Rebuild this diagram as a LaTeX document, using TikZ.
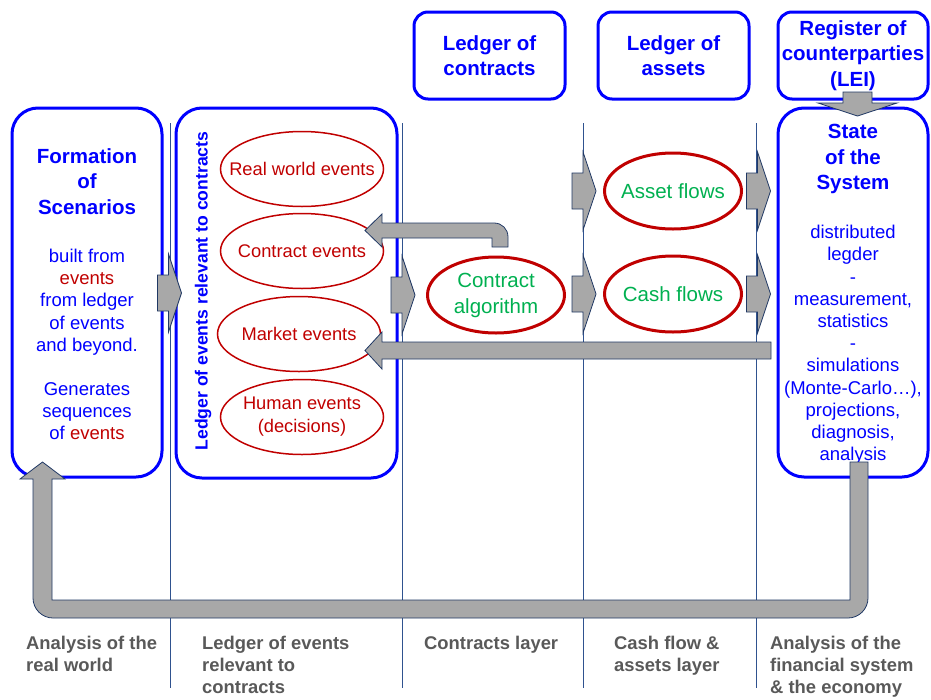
\documentclass[tikz,border=0pt]{standalone}
\usepackage{fontspec}
\setmainfont{Liberation Sans}
\usetikzlibrary{calc,positioning,shapes.geometric}
\definecolor{boxblue}{RGB}{0,0,255}
\definecolor{evred}{RGB}{192,0,0}
\definecolor{flowgreen}{RGB}{0,176,80}
\definecolor{arrowgray}{RGB}{168,168,168}
\definecolor{arrowedge}{RGB}{32,56,100}
\definecolor{linecol}{RGB}{47,82,143}
\definecolor{labelgray}{RGB}{89,89,89}
\tikzset{
	bluebox/.style={draw=boxblue, line width=3pt, rounded corners=#1, inner sep=0pt},
	bluebox/.default=26pt,
	ttl/.style={font=\bfseries\fontsize{20.5}{25.5}\selectfont, text=boxblue, align=center, inner sep=0pt},
	dsc/.style={font=\fontsize{18.5}{22.2}\selectfont, text=boxblue, align=center, inner sep=0pt},
	evt/.style={ellipse, draw=evred, line width=1.5pt, minimum width=163pt, minimum height=75pt, inner sep=0pt},
	evtext/.style={inner sep=0pt, text=evred, font=\fontsize{18.3}{23}\selectfont, align=center},
	flow/.style={ellipse, draw=evred, line width=3pt, minimum width=137pt, minimum height=76pt, inner sep=0pt},
	flowtext/.style={inner sep=0pt, text=flowgreen, font=\fontsize{20.5}{26}\selectfont, align=center},
	blockarrow/.style={fill=arrowgray, draw=arrowedge, line width=0.8pt, line join=miter},
	layerline/.style={draw=linecol, line width=0.8pt},
	layerlabel/.style={anchor=north west, inner sep=0pt, align=left, text=labelgray, font=\bfseries\fontsize{18.4}{22}\selectfont}
}
\newcommand{\rblock}[1]{\draw[blockarrow, shift={#1}] (-24,-18) -- (-13,-18) -- (-13,-39) -- (0,0) -- (-13,39) -- (-13,18) -- (-24,18) -- cycle;}

\begin{document}
\begin{tikzpicture}[x=1pt, y=-1pt]
		%%%%% START %%%%%
		\useasboundingbox (0,0) rectangle (931,699);
		
		\foreach \lx in {170,402,583,756}
			\draw[layerline] (\lx,123) -- (\lx,688);
		
		\node[bluebox, minimum width=150pt, minimum height=369pt] (form) at (87,292.5) {};
		\node[bluebox, minimum width=221pt, minimum height=370pt] (evledger) at (286.5,293) {};
		\node[bluebox=14pt, minimum width=151pt, minimum height=87pt, ttl] (contracts) at (489.5,55.5) {Ledger of\\contracts};
		\node[bluebox=14pt, minimum width=151pt, minimum height=87pt, ttl] (assets) at (673.5,55.5) {Ledger of\\assets};
		\node[bluebox=14pt, minimum width=150pt, minimum height=87pt, ttl] (lei) at (853,55.5) {Register of\\counterparties\\(LEI)};
		\node[bluebox, minimum width=150pt, minimum height=369pt] (state) at (853,292.5) {};
		
		\node[ttl] (formttl) at (87,181.5) {Formation\\of\\Scenarios};
		\node[dsc] (formdsc) at (87,344.5) {built from\\\textcolor{evred}{events}\\from ledger\\of events\\and beyond.\\[22pt]Generates\\sequences\\of \textcolor{evred}{events}};
		
		\node[ttl] (statettl) at (853,159) {State\\of the\\System};
		\node[dsc] (statedsc) at (853,345) {distributed\\legder\\-\\measurement,\\statistics\\-\\simulations\\(Monte-Carlo…),\\projections,\\diagnosis,\\analysis};
		
		\node[rotate=90, inner sep=0pt, text=boxblue, font=\bfseries\fontsize{17.6}{20}\selectfont] (evttl) at (203,291) {Ledger of events relevant to contracts};
		
		% events
		\node[evt] (realev) at (302,169) {};
		\node[evt] (contev) at (302,251) {};
		\node[evt] (mktev) at (299,334) {};
		\node[evt] (humev) at (302,417) {};
		\node[evtext] at (realev) {Real world events};
		\node[evtext] at (contev) {Contract events};
		\node[evtext] at (mktev) {Market events};
		\node[evtext] at (humev) {Human events\\(decisions)};
		
		% flows
		\node[flow] (algo) at (496,295) {};
		\node[flow] (asset) at (673,191) {};
		\node[flow] (cash) at (673,294) {};
		\node[flowtext] at (algo) {Contract\\algorithm};
		\node[flowtext] at (asset) {Asset flows};
		\node[flowtext] at (cash) {Cash flows};
		
		% block arrows
		\rblock{($(evledger.west)+(7,0)$)}
		\rblock{($(algo.west)+(-11,0)$)}
		\rblock{($(asset.west)+(-7,0)$)}
		\rblock{($(cash.west)+(-7,0)$)}
		\rblock{($(state.west |- asset)+(-6,0)$)}
		\rblock{($(state.west |- cash)+(-6,0)$)}
		
		\draw[blockarrow] (508,247) -- (508,237) .. controls (508,229) and (502,223) .. (494,223) -- (382,223) -- (382,214) -- (365,230.5) -- (382,247) -- (382,238) -- (492,238) -- (492,247) -- cycle;
		\draw[blockarrow] (771,342) -- (382,342) -- (382,332) -- (365,350.5) -- (382,369) -- (382,359) -- (771,359) -- cycle;
		\draw[blockarrow] (843,92) -- (872,92) -- (872,103) -- (897,103) -- (857.5,116) -- (818,103) -- (843,103) -- cycle;
		\draw[blockarrow] (868,462) -- (868,598) .. controls (868,609) and (859,618) .. (848,618) -- (53,618) .. controls (42,618) and (33,609) .. (33,598) -- (33,479) -- (20,479) -- (42.5,462) -- (65,479) -- (52,479) -- (52,600) -- (850,600) -- (850,462) -- cycle;
		
		% layer names
		\node[layerlabel] (lab1) at (26,636) {Analysis of the\\real world};
		\node[layerlabel] (lab2) at (202,636) {Ledger of events\\relevant to\\contracts};
		\node[layerlabel] (lab3) at (424,636) {Contracts layer};
		\node[layerlabel] (lab4) at (614,636) {Cash flow \&\\assets layer};
		\node[layerlabel] (lab5) at (770,636) {Analysis of the\\financial system\\\& the economy};
		%%%%% END %%%%%
\end{tikzpicture}
\end{document}
